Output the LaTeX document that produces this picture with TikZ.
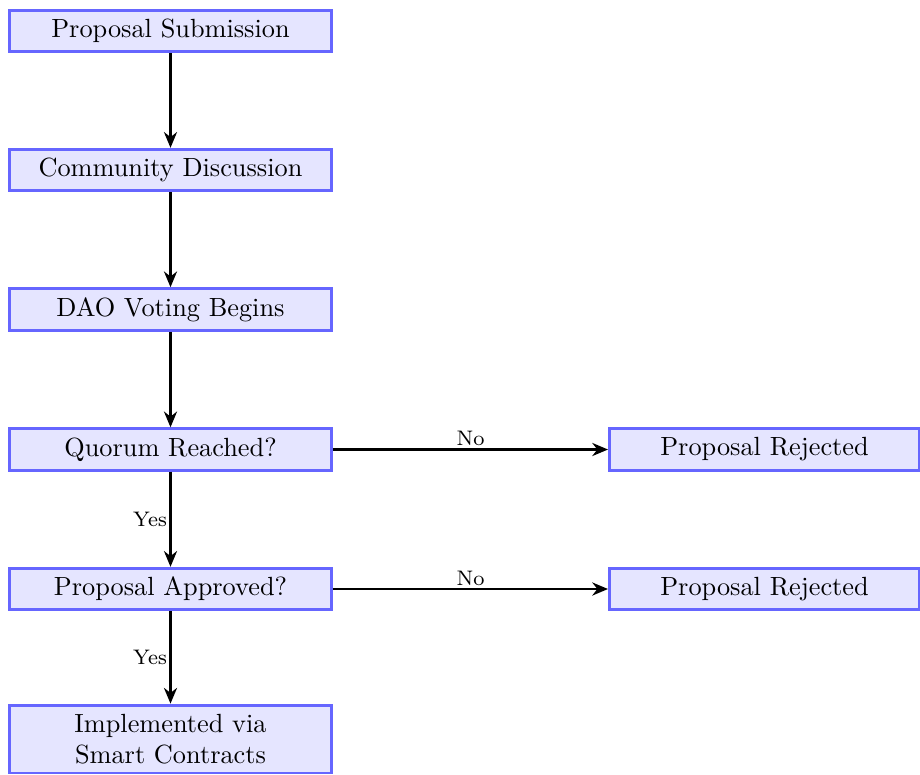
\documentclass[tikz,border=0pt]{standalone}
\usetikzlibrary{arrows.meta}
\begin{document}
\begin{tikzpicture}[x=0.3802pt,y=-0.3802pt,
  stepbox/.style={draw=blue!60, fill=blue!10, line width=1.1pt, minimum width=122.4pt, minimum height=15.8pt, align=center, inner sep=3.33pt},
  rejbox/.style={stepbox, minimum width=117.9pt},
  arr/.style={-{Stealth[length=6pt,width=5pt]}, line width=0.8pt},
  lbl/.style={font=\footnotesize}]
\useasboundingbox (0,0) rectangle (920,774);
\node[stepbox] (sub) at (170.5,31) {Proposal Submission};
\node[stepbox] (dis) at (170.5,170) {Community Discussion};
\node[stepbox] (vot) at (170.5,309.5) {DAO Voting Begins};
\node[stepbox] (quo) at (170.5,449.5) {Quorum Reached?};
\node[stepbox] (app) at (170.5,589) {Proposal Approved?};
\node[stepbox] (imp) at (170.5,739) {Implemented via\\Smart Contracts};
\node[rejbox] (rej1) at (764.5,449.5) {Proposal Rejected};
\node[rejbox] (rej2) at (764.5,589) {Proposal Rejected};
\draw[arr] (sub) -- (dis);
\draw[arr] (dis) -- (vot);
\draw[arr] (vot) -- (quo);
\draw[arr] (quo) -- node[lbl, left, inner sep=1pt] {Yes} (app);
\draw[arr] (app) -- node[lbl, left, inner sep=1pt] {Yes} (imp);
\draw[arr] (quo) -- node[lbl, above, inner sep=1pt] {No} (rej1);
\draw[arr] (app) -- node[lbl, above, inner sep=1pt] {No} (rej2);
\end{tikzpicture}
\end{document}
